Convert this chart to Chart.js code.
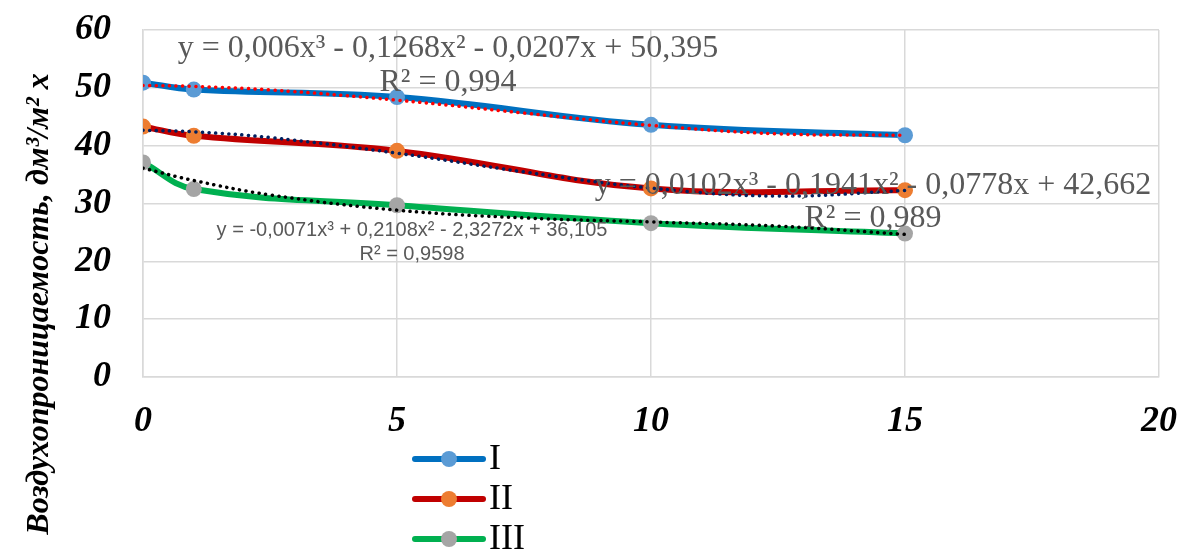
<!DOCTYPE html>
<html>
<head>
<meta charset="utf-8">
<script src="https://cdn.jsdelivr.net/npm/chart.js@4"></script>
<style>
  body { margin: 0; background: #fff; }
  #wrap { width: 1181px; height: 552px; }
</style>
</head>
<body>
<div id="wrap"><canvas id="myChart" width="1181" height="552"></canvas></div>
<script>
// data
var xValues = [0, 1, 5, 10, 15];
var seriesI = [50.9, 49.7, 48.4, 43.6, 41.8];
var seriesII = [43.3, 41.7, 39.1, 32.6, 32.3];
var seriesIII = [37.1, 32.5, 29.7, 26.6, 24.8];

// dotted trend curves (read at these x)
var trendX = [0, 1, 2.5, 5, 7.5, 10, 12.5, 15];
var trendI = [50.40, 50.25, 49.64, 47.87, 45.64, 43.51, 42.04, 41.80];
var trendII = [42.66, 42.40, 41.41, 38.70, 35.46, 32.67, 31.28, 32.25];
var trendIII = [36.11, 33.98, 31.49, 28.85, 27.51, 26.81, 26.09, 24.66];

var seriesNames = ['I', 'II', 'III'];
var yTicks = [0, 10, 20, 30, 40, 50, 60];
var xTicks = [0, 5, 10, 15, 20];

var eqI = ['y = 0,006x³ - 0,1268x² - 0,0207x + 50,395', 'R² = 0,994'];
var eqII = ['y = 0,0102x³ - 0,1941x² - 0,0778x + 42,662', 'R² = 0,989'];
var eqIII = ['y = -0,0071x³ + 0,2108x² - 2,3272x + 36,105', 'R² = 0,9598'];
var yTitle = 'Воздухопроницаемость, дм³/м² х';

function pts(xs, ys) {
  return xs.map(function(x, i) { return {x: x, y: ys[i]}; });
}

function mainSet(name, vals, line, mark) {
  return {
    label: name, data: pts(xValues, vals),
    borderColor: line, backgroundColor: mark,
    borderWidth: 6, tension: 0.4,
    pointRadius: 8, pointBackgroundColor: mark, pointBorderWidth: 0,
    order: 2
  };
}
function trendSet(vals, col) {
  return {
    label: 'trend', data: pts(trendX, vals),
    borderColor: col, borderWidth: 3.5, borderDash: [0.1, 6.5],
    borderCapStyle: 'round', tension: 0.4, pointRadius: 0, order: 1
  };
}

var serif = '"Liberation Serif", "Times New Roman", serif';

var extras = {
  id: 'extras',
  afterDatasetsDraw: function(chart) {
    var c = chart.ctx;
    c.save();
    c.textAlign = 'center';
    c.textBaseline = 'middle';
    c.fillStyle = '#595959';
    c.font = '32px ' + serif;
    c.fillText(eqI[0], 448, 49);
    c.fillText(eqI[1], 448, 83);
    c.fillText(eqII[0], 873, 186);
    c.fillText(eqII[1], 873, 219);
    c.font = '20px "Liberation Sans", Arial, sans-serif';
    c.fillText(eqIII[0], 412, 230);
    c.fillText(eqIII[1], 412, 254);

    // legend
    var sets = chart.data.datasets.filter(function(d) { return d.label != 'trend'; });
    sets.forEach(function(d, i) {
      var y = 459 + i * 40;
      c.strokeStyle = d.borderColor;
      c.lineWidth = 6;
      c.lineCap = 'round';
      c.beginPath(); c.moveTo(415, y); c.lineTo(483, y); c.stroke();
      c.fillStyle = d.pointBackgroundColor;
      c.beginPath(); c.arc(449, y, 8, 0, Math.PI * 2); c.fill();
      c.fillStyle = '#000';
      c.textAlign = 'left';
      c.font = '36px ' + serif;
      c.fillText(d.label, 489, y + 1);
    });

    // y title
    c.translate(40, 304);
    c.rotate(-Math.PI / 2);
    c.textAlign = 'center';
    c.fillStyle = '#000';
    c.font = 'italic bold 32px ' + serif;
    c.fillText(yTitle, 0, 0);
    c.restore();
  }
};

var ctx = document.getElementById('myChart').getContext('2d');
var myChart = new Chart(ctx, {
  type: 'line',
  data: {
    datasets: [
      mainSet(seriesNames[0], seriesI, '#0070C0', '#5B9BD5'),
      mainSet(seriesNames[1], seriesII, '#C00000', '#ED7D31'),
      mainSet(seriesNames[2], seriesIII, '#00B050', '#A5A5A5'),
      trendSet(trendI, '#FF0000'),
      trendSet(trendII, '#002060'),
      trendSet(trendIII, '#000000')
    ]
  },
  options: {
    responsive: false,
    animation: false,
    layout: { padding: { left: 0, right: 22, top: 30, bottom: 0 } },
    plugins: { legend: { display: false }, tooltip: { enabled: false } },
    scales: {
      x: {
        type: 'linear', min: 0, max: 20,
        afterFit: function(s) { s.height = 175; s.paddingLeft = 0; s.paddingRight = 0; },
        afterBuildTicks: function(s) { s.ticks = xTicks.map(function(v) { return {value: v}; }); },
        grid: { color: '#D9D9D9', lineWidth: 1.5, drawTicks: false },
        border: { color: '#D9D9D9', width: 1.5 },
        ticks: { padding: 23, color: '#000', font: { family: serif, size: 36, style: 'italic', weight: 'bold' } }
      },
      y: {
        min: 0, max: 60,
        afterFit: function(s) { s.width = 143; s.paddingTop = 0; s.paddingBottom = 0; },
        afterBuildTicks: function(s) { s.ticks = yTicks.map(function(v) { return {value: v}; }); },
        grid: { color: '#D9D9D9', lineWidth: 1.5, drawTicks: false },
        border: { color: '#D9D9D9', width: 1.5 },
        ticks: { padding: 32, color: '#000', font: { family: serif, size: 36, style: 'italic', weight: 'bold' } }
      }
    }
  },
  plugins: [extras]
});
</script>
</body>
</html>
